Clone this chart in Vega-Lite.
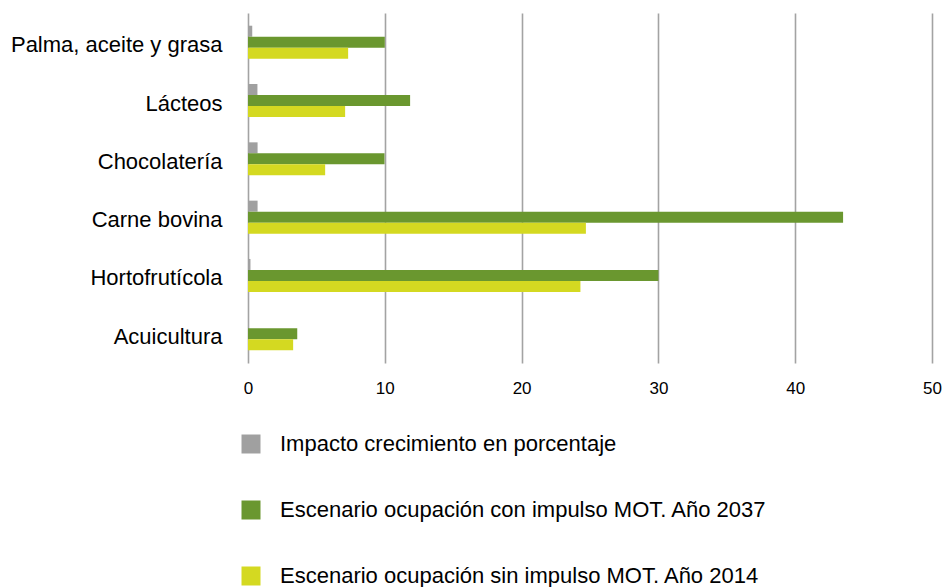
{
  "$schema": "https://vega.github.io/schema/vega-lite/v6.json",
  "autosize": {"type": "none"},
  "width": 684,
  "height": 350,
  "padding": {"left": 248, "top": 13, "right": 10, "bottom": 224},
  "background": "white",
  "data": {
    "values": [
      {"cat": "Palma, aceite y grasa", "serie": "Impacto crecimiento en porcentaje", "v": 0.31},
      {"cat": "Palma, aceite y grasa", "serie": "Escenario ocupación con impulso MOT. Año 2037", "v": 10.0},
      {"cat": "Palma, aceite y grasa", "serie": "Escenario ocupación sin impulso MOT. Año 2014", "v": 7.32},
      {"cat": "Lácteos", "serie": "Impacto crecimiento en porcentaje", "v": 0.69},
      {"cat": "Lácteos", "serie": "Escenario ocupación con impulso MOT. Año 2037", "v": 11.85},
      {"cat": "Lácteos", "serie": "Escenario ocupación sin impulso MOT. Año 2014", "v": 7.1},
      {"cat": "Chocolatería", "serie": "Impacto crecimiento en porcentaje", "v": 0.7},
      {"cat": "Chocolatería", "serie": "Escenario ocupación con impulso MOT. Año 2037", "v": 9.98},
      {"cat": "Chocolatería", "serie": "Escenario ocupación sin impulso MOT. Año 2014", "v": 5.64},
      {"cat": "Carne bovina", "serie": "Impacto crecimiento en porcentaje", "v": 0.7},
      {"cat": "Carne bovina", "serie": "Escenario ocupación con impulso MOT. Año 2037", "v": 43.5},
      {"cat": "Carne bovina", "serie": "Escenario ocupación sin impulso MOT. Año 2014", "v": 24.7},
      {"cat": "Hortofrutícola", "serie": "Impacto crecimiento en porcentaje", "v": 0.18},
      {"cat": "Hortofrutícola", "serie": "Escenario ocupación con impulso MOT. Año 2037", "v": 30.0},
      {"cat": "Hortofrutícola", "serie": "Escenario ocupación sin impulso MOT. Año 2014", "v": 24.3},
      {"cat": "Acuicultura", "serie": "Impacto crecimiento en porcentaje", "v": 0},
      {"cat": "Acuicultura", "serie": "Escenario ocupación con impulso MOT. Año 2037", "v": 3.6},
      {"cat": "Acuicultura", "serie": "Escenario ocupación sin impulso MOT. Año 2014", "v": 3.3}
    ]
  },
  "mark": {"type": "bar"},
  "encoding": {
    "y": {
      "field": "cat",
      "type": "nominal",
      "sort": null,
      "title": null,
      "scale": {"paddingInner": 0.434, "paddingOuter": 0.218},
      "axis": {
        "domain": false,
        "ticks": false,
        "labelFont": "Liberation Sans",
        "labelFontSize": 22,
        "labelColor": "#000000",
        "labelPadding": 26,
        "labelOffset": 3,
        "labelLimit": 300
      }
    },
    "x": {
      "field": "v",
      "type": "quantitative",
      "title": null,
      "scale": {"domain": [0, 50], "nice": false},
      "axis": {
        "values": [0, 10, 20, 30, 40, 50],
        "domain": false,
        "ticks": false,
        "grid": true,
        "gridColor": "#a3a3a3",
        "gridWidth": 1.6,
        "labelFlush": false,
        "labelFont": "Liberation Sans",
        "labelFontSize": 17,
        "labelColor": "#000000",
        "labelPadding": 17
      }
    },
    "yOffset": {
      "field": "serie",
      "type": "nominal",
      "sort": ["Impacto crecimiento en porcentaje", "Escenario ocupación con impulso MOT. Año 2037", "Escenario ocupación sin impulso MOT. Año 2014"],
      "scale": {"paddingInner": 0, "paddingOuter": 0}
    },
    "color": {
      "field": "serie",
      "type": "nominal",
      "title": null,
      "scale": {
        "domain": ["Impacto crecimiento en porcentaje", "Escenario ocupación con impulso MOT. Año 2037", "Escenario ocupación sin impulso MOT. Año 2014"],
        "range": ["#a0a0a0", "#6a972f", "#d4d921"]
      },
      "legend": {
        "orient": "none",
        "legendX": -8,
        "legendY": 420,
        "direction": "vertical",
        "padding": 0,
        "symbolType": "square",
        "symbolSize": 361,
        "symbolStrokeWidth": 0,
        "symbolOpacity": 1,
        "labelFont": "Liberation Sans",
        "labelFontSize": 22,
        "labelColor": "#000000",
        "labelOffset": 18,
        "labelLimit": 600,
        "rowPadding": 44
      }
    }
  },
  "config": {"view": {"stroke": null}}
}
